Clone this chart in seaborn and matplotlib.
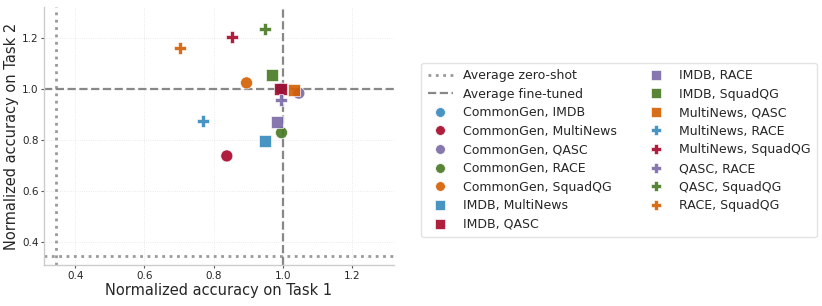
import numpy as np
import pandas as pd
import matplotlib
matplotlib.use("Agg")
import matplotlib.pyplot as plt
from matplotlib.lines import Line2D
import seaborn as sns

# task pairs
pairs = ["CommonGen, IMDB", "CommonGen, MultiNews", "CommonGen, QASC",
         "CommonGen, RACE", "CommonGen, SquadQG",
         "IMDB, MultiNews", "IMDB, QASC", "IMDB, RACE", "IMDB, SquadQG",
         "MultiNews, QASC", "MultiNews, RACE", "MultiNews, SquadQG",
         "QASC, RACE", "QASC, SquadQG", "RACE, SquadQG"]
task1 = [0.995, 0.838, 1.046, 0.996, 0.895,
         0.947, 0.993, 0.984, 0.969,
         1.033, 0.769, 0.854,
         0.994, 0.947, 0.703]
task2 = [1.000, 0.737, 0.983, 0.828, 1.023,
         0.794, 0.998, 0.869, 1.055,
         0.996, 0.874, 1.201,
         0.957, 1.234, 1.158]

zero_shot = 0.345
fine_tuned = 1.0

colors = ["#348ABD", "#A60628", "#7A68A6", "#467821", "#D55E00"]
shapes = ["o", "s", "P"]

df = pd.DataFrame({"pair": pairs, "t1": task1, "t2": task2})
palette = {p: colors[i % 5] for i, p in enumerate(pairs)}
markers = {p: shapes[i // 5] for i, p in enumerate(pairs)}

sns.set_style("ticks")
plt.rcParams['font.family'] = ['DejaVu Sans']

fig = plt.figure(figsize=(8.22, 3.06), dpi=100)
ax = fig.add_axes([0.0535, 0.134, 0.4255, 0.843])

ax.axvline(zero_shot, color="#999999", linestyle=":", linewidth=2)
ax.axhline(zero_shot, color="#999999", linestyle=":", linewidth=2)
ax.axvline(fine_tuned, color="#888888", linestyle="--", linewidth=1.6)
ax.axhline(fine_tuned, color="#888888", linestyle="--", linewidth=1.6)

sns.scatterplot(data=df, x="t1", y="t2", hue="pair", style="pair",
                palette=palette, markers=markers, s=75, alpha=0.9,
                edgecolor="white", linewidth=0.5, legend=False, ax=ax,
                zorder=3)

ax.set_xlim(0.31, 1.32)
ax.set_ylim(0.31, 1.32)
ax.set_xticks([0.4, 0.6, 0.8, 1.0, 1.2])
ax.set_yticks([0.4, 0.6, 0.8, 1.0, 1.2])
ax.grid(True, color="#e3e3e3", linestyle=":", linewidth=0.6)
ax.set_axisbelow(True)
ax.tick_params(labelsize=7.5, length=2.5, width=0.8, color="#555555", pad=1.5)
ax.set_xlabel("Normalized accuracy on Task 1", fontsize=10.5, labelpad=1.5)
ax.set_ylabel("Normalized accuracy on Task 2", fontsize=10.5, labelpad=2)
sns.despine(ax=ax)
for side in ["left", "bottom"]:
    ax.spines[side].set_color("#cccccc")
    ax.spines[side].set_linewidth(1.0)

handles = [Line2D([], [], color="#999999", linestyle=":", linewidth=2),
           Line2D([], [], color="#888888", linestyle="--", linewidth=1.6)]
labels = ["Average zero-shot", "Average fine-tuned"]
for p in pairs:
    handles.append(Line2D([], [], linestyle="", marker=markers[p], color=palette[p],
                          markersize=7, alpha=0.9, markeredgecolor="white",
                          markeredgewidth=0.5))
    labels.append(p)

fig.legend(handles, labels, ncol=2, loc="center left",
           bbox_to_anchor=(0.505, 0.51), fontsize=9, labelspacing=0.45,
           handlelength=2.0, columnspacing=2.2, frameon=True,
           edgecolor="#dddddd", fancybox=True, borderpad=0.5)

fig.savefig("out.png", dpi=100)
